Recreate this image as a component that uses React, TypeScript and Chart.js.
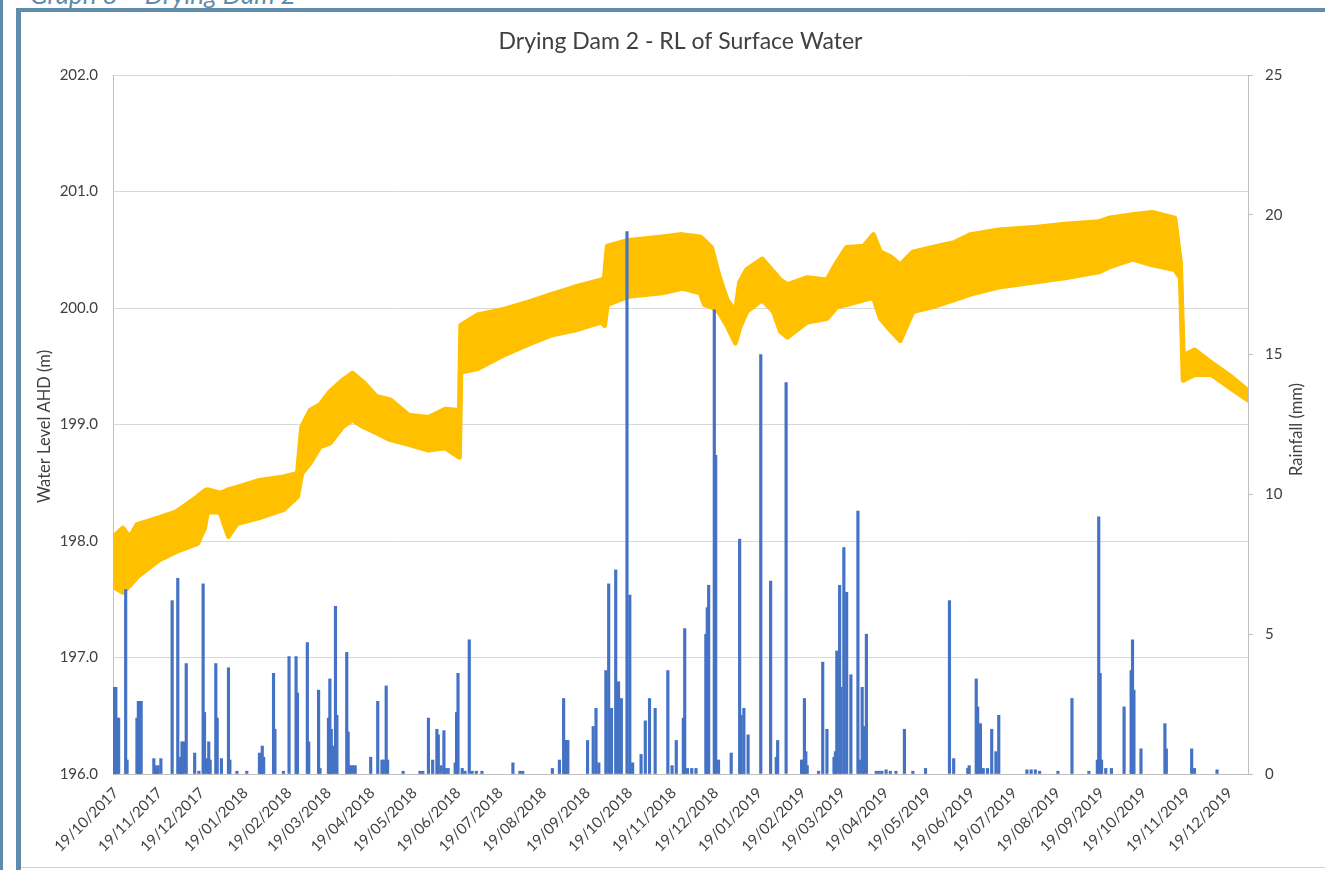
import React, { useEffect, useRef } from 'react';
import { Chart, registerables } from 'chart.js';

Chart.register(...registerables);

// ---------- data ----------
const chartTitle = 'Drying Dam 2 - RL of Surface Water';
const leftAxisTitle = 'Water Level AHD (m)';
const rightAxisTitle = 'Rainfall (mm)';
const startDate = '19/10/2017';
const xMaxDay = 806;

const monthLabels = [
  '19/10/2017', '19/11/2017', '19/12/2017', '19/01/2018', '19/02/2018', '19/03/2018',
  '19/04/2018', '19/05/2018', '19/06/2018', '19/07/2018', '19/08/2018', '19/09/2018',
  '19/10/2018', '19/11/2018', '19/12/2018', '19/01/2019', '19/02/2019', '19/03/2019',
  '19/04/2019', '19/05/2019', '19/06/2019', '19/07/2019', '19/08/2019', '19/09/2019',
  '19/10/2019', '19/11/2019', '19/12/2019',
];

// water level envelope (days after 19/10/2017)
const levelDays = [
  0, 7, 12, 17, 33, 45, 60, 65, 67, 76, 82, 88, 104, 121, 131, 134, 140, 147, 154, 163,
  170, 178, 187, 197, 210, 224, 236, 246, 247, 259, 278, 295, 312, 328, 347, 349, 351, 366,
  390, 404, 417, 420, 425, 430, 436, 442, 445, 450, 461, 469, 474, 479, 493, 507, 514, 521,
  533, 540, 545, 552, 559, 568, 582, 597, 609, 629, 653, 676, 700, 707, 724, 738, 754, 758,
  760, 768, 780, 795, 806,
];
const levelMax = [
  198.03, 198.11, 198.03, 198.14, 198.20, 198.25, 198.38, 198.43, 198.44, 198.41, 198.44, 198.46,
  198.52, 198.55, 198.58, 198.98, 199.12, 199.17, 199.28, 199.38, 199.44, 199.36, 199.24, 199.21,
  199.08, 199.06, 199.13, 199.12, 199.85, 199.94, 199.99, 200.05, 200.12, 200.18, 200.24, 200.26,
  200.53, 200.58, 200.61, 200.63, 200.61, 200.58, 200.52, 200.29, 200.07, 199.97, 200.22, 200.33,
  200.42, 200.31, 200.24, 200.20, 200.26, 200.24, 200.39, 200.52, 200.53, 200.63, 200.48, 200.44,
  200.37, 200.48, 200.52, 200.56, 200.63, 200.67, 200.69, 200.72, 200.74, 200.77, 200.80, 200.82,
  200.77, 200.39, 199.59, 199.64, 199.53, 199.40, 199.29,
];
const levelMin = [
  197.61, 197.56, 197.62, 197.69, 197.84, 197.91, 197.98, 198.11, 198.25, 198.25, 198.04, 198.15,
  198.20, 198.27, 198.38, 198.58, 198.67, 198.81, 198.84, 198.98, 199.04, 198.98, 198.93, 198.87,
  198.83, 198.78, 198.80, 198.72, 199.45, 199.48, 199.60, 199.69, 199.77, 199.81, 199.88, 199.85,
  200.03, 200.10, 200.13, 200.17, 200.13, 200.03, 200.01, 199.97, 199.85, 199.70, 199.83, 199.97,
  200.07, 199.97, 199.80, 199.75, 199.88, 199.91, 200.01, 200.03, 200.07, 200.09, 199.91, 199.81,
  199.72, 199.97, 200.01, 200.07, 200.12, 200.18, 200.22, 200.26, 200.31, 200.35, 200.42, 200.37,
  200.33, 200.26, 199.38, 199.43, 199.43, 199.30, 199.21,
];

// daily rainfall (days after 19/10/2017, mm)
const rainDays = [
  0, 1, 2, 3, 4, 9, 10, 17, 18, 19, 20, 29, 30, 31, 32, 34, 42, 46, 47, 48, 49, 50, 52, 58, 61,
  64, 65, 67, 68, 69, 73, 74, 77, 82, 83, 88, 95, 104, 105, 106, 107, 114, 115, 121, 125, 130,
  131, 138, 139, 146, 147, 153, 154, 155, 156, 158, 159, 166, 167, 168, 170, 172, 183, 188, 191,
  192, 194, 195, 206, 218, 220, 224, 227, 230, 231, 233, 235, 236, 238, 243, 244, 245, 248, 250,
  253, 255, 258, 262, 284, 289, 291, 312, 317, 320, 321, 322, 323, 337, 341, 343, 345, 350, 352,
  354, 357, 359, 361, 365, 367, 369, 375, 378, 381, 385, 394, 397, 400, 405, 406, 408, 411, 414,
  421, 422, 423, 427, 428, 430, 439, 445, 446, 448, 451, 460, 467, 471, 472, 478, 489, 490, 491,
  492, 493, 501, 504, 507, 512, 513, 514, 516, 517, 519, 521, 524, 529, 530, 532, 533, 535, 542,
  544, 546, 549, 552, 556, 562, 568, 577, 594, 597, 607, 608, 613, 614, 616, 618, 621, 624, 627,
  629, 649, 652, 655, 658, 671, 681, 693, 699, 700, 701, 702, 705, 709, 718, 723, 724, 725, 730,
  747, 748, 766, 768, 784,
];
const rainMm = [
  2.7, 3.1, 3.1, 2.0, 2.0, 6.6, 0.5, 2.0, 2.6, 2.6, 2.6, 0.55, 0.3, 0.2, 0.3, 0.55, 6.2, 7.0, 0.3,
  0.6, 1.15, 1.15, 3.95, 0.75, 0.1, 6.8, 2.2, 0.55, 1.15, 0.5, 3.95, 2.0, 0.55, 3.8, 0.5, 0.1, 0.1,
  0.75, 0.5, 1.0, 0.6, 3.6, 1.6, 0.1, 4.2, 4.2, 2.9, 4.7, 1.15, 3.0, 0.2, 2.0, 3.4, 1.6, 1.0, 6.0,
  2.1, 4.35, 1.5, 0.3, 0.3, 0.3, 0.6, 2.6, 0.5, 0.5, 3.15, 0.5, 0.1, 0.1, 0.1, 2.0, 0.5, 1.6, 1.4,
  0.3, 1.55, 0.2, 0.2, 0.4, 2.2, 3.6, 0.2, 0.1, 4.8, 0.1, 0.1, 0.1, 0.4, 0.1, 0.1, 0.2, 0.5, 2.7,
  1.2, 1.2, 1.2, 1.2, 1.7, 2.35, 0.4, 3.7, 6.8, 2.35, 7.3, 3.3, 2.7, 19.4, 6.4, 0.4, 0.7, 1.9, 2.7,
  2.35, 3.7, 0.3, 1.2, 2.0, 5.2, 0.2, 0.2, 0.2, 5.0, 5.95, 6.75, 16.6, 11.4, 0.5, 0.75, 8.4, 2.1,
  2.35, 1.4, 15.0, 6.9, 0.6, 1.2, 14.0, 0.5, 0.5, 2.7, 0.8, 0.3, 0.1, 4.0, 1.6, 0.6, 0.8, 4.4,
  6.75, 3.1, 8.1, 6.5, 3.55, 9.4, 0.5, 3.1, 1.7, 5.0, 0.1, 0.1, 0.1, 0.15, 0.1, 0.1, 1.6, 0.1,
  0.2, 6.2, 0.55, 0.2, 0.3, 3.4, 2.4, 1.8, 0.2, 0.2, 1.6, 0.8, 2.1, 0.15, 0.15, 0.15, 0.1, 0.1,
  2.7, 0.1, 0.5, 9.2, 3.6, 0.5, 0.2, 0.2, 2.4, 3.7, 4.8, 3.0, 0.9, 1.8, 0.9, 0.9, 0.2, 0.15,
];

// ---------- helpers ----------
const parseDay = (s: string) => {
  const [d, m, y] = s.split('/').map(Number);
  return Date.UTC(y, m - 1, d);
};
const startMs = parseDay(startDate);
const tickDays = monthLabels.map((s) => Math.round((parseDay(s) - startMs) / 86400000));

const FONT = 'Lato, "Open Sans", sans-serif';
const TEXT = '#404040';
const YELLOW = '#FFC000';
const BLUE = '#4472C4';

const textPlugin = {
  id: 'chartTexts',
  afterDraw(chart: any) {
    const { ctx, chartArea } = chart;
    const cy = (chartArea.top + chartArea.bottom) / 2;
    // chart title
    ctx.save();
    ctx.fillStyle = TEXT;
    ctx.font = `23px ${FONT}`;
    ctx.textAlign = 'center';
    ctx.textBaseline = 'middle';
    ctx.fillText(chartTitle, (chartArea.left + chartArea.right) / 2, 30);
    ctx.restore();
    // left axis title
    ctx.save();
    ctx.fillStyle = TEXT;
    ctx.font = `16.5px ${FONT}`;
    ctx.textAlign = 'center';
    ctx.textBaseline = 'middle';
    ctx.translate(24, cy + 2);
    ctx.rotate(-Math.PI / 2);
    ctx.fillText(leftAxisTitle, 0, 0);
    ctx.restore();
    // right axis title
    ctx.save();
    ctx.fillStyle = TEXT;
    ctx.font = `16.5px ${FONT}`;
    ctx.textAlign = 'center';
    ctx.textBaseline = 'middle';
    ctx.translate(chartArea.right + 49, cy + 5);
    ctx.rotate(-Math.PI / 2);
    ctx.fillText(rightAxisTitle, 0, 0);
    ctx.restore();
  },
};

function RainLevelChart() {
  const ref = useRef<HTMLCanvasElement | null>(null);
  useEffect(() => {
    if (!ref.current) return;
    const chart = new Chart(ref.current, {
      type: 'line',
      data: {
        datasets: [
          {
            type: 'bar',
            label: 'Rainfall',
            yAxisID: 'y2',
            data: rainDays.map((d, i) => ({ x: d, y: rainMm[i] })),
            backgroundColor: BLUE,
            borderWidth: 0,
            barThickness: 2.5,
            order: 0,
          } as any,
          {
            type: 'line',
            label: 'Level max',
            yAxisID: 'y',
            data: levelDays.map((d, i) => ({ x: d, y: levelMax[i] })),
            borderColor: YELLOW,
            backgroundColor: YELLOW,
            borderWidth: 5,
            borderJoinStyle: 'round',
            borderCapStyle: 'round',
            pointRadius: 0,
            tension: 0,
            fill: false,
            order: 1,
          },
          {
            type: 'line',
            label: 'Level min',
            yAxisID: 'y',
            data: levelDays.map((d, i) => ({ x: d, y: levelMin[i] })),
            borderColor: YELLOW,
            backgroundColor: YELLOW,
            borderWidth: 5,
            borderJoinStyle: 'round',
            borderCapStyle: 'round',
            pointRadius: 0,
            tension: 0,
            fill: '-1',
            order: 2,
          },
        ],
      },
      options: {
        responsive: false,
        animation: false,
        events: [],
        layout: { padding: { top: 63, left: 0, right: 0, bottom: 0 } },
        plugins: {
          legend: { display: false },
          tooltip: { enabled: false },
          title: { display: false },
        },
        scales: {
          x: {
            type: 'linear',
            min: 0,
            max: xMaxDay,
            offset: false,
            grid: { display: false, drawTicks: false, offset: false },
            border: { display: true, color: '#BFBFBF', width: 1 },
            afterBuildTicks: (s: any) => {
              s.ticks = tickDays.map((v) => ({ value: v }));
            },
            afterFit: (s: any) => {
              s.height = 93;
            },
            ticks: {
              autoSkip: false,
              minRotation: 45,
              maxRotation: 45,
              padding: 10,
              labelOffset: 3,
              color: TEXT,
              font: { family: FONT, size: 15 },
              callback: (_v: any, i: number) => monthLabels[i],
            },
          },
          y: {
            type: 'linear',
            position: 'left',
            min: 196,
            max: 202,
            grid: { color: '#D9D9D9', drawTicks: false },
            border: { display: true, color: '#BFBFBF' },
            afterFit: (s: any) => {
              s.width = 92;
            },
            ticks: {
              stepSize: 1,
              padding: 15,
              color: TEXT,
              font: { family: FONT, size: 15 },
              callback: (v: any) => Number(v).toFixed(1),
            },
          },
          y2: {
            type: 'linear',
            position: 'right',
            min: 0,
            max: 25,
            grid: { drawOnChartArea: false, drawTicks: true, tickLength: 5, color: '#BFBFBF' },
            border: { display: true, color: '#BFBFBF' },
            afterFit: (s: any) => {
              s.width = 77;
            },
            ticks: {
              stepSize: 5,
              padding: 12,
              color: TEXT,
              font: { family: FONT, size: 15 },
            },
          },
        },
      },
      plugins: [textPlugin],
    } as any);
    return () => chart.destroy();
  }, []);
  return <canvas ref={ref} width={1304} height={855} style={{ display: 'block' }} />;
}

export default function App() {
  const frame = '#5F8CAB';
  return (
    <div
      style={{
        position: 'fixed',
        left: 0,
        top: 0,
        width: 1325,
        height: 870,
        overflow: 'hidden',
        background: '#ffffff',
        fontFamily: FONT,
      }}
    >
      <div
        style={{
          position: 'absolute',
          left: 30,
          top: -19,
          fontSize: 26,
          lineHeight: '26px',
          fontStyle: 'italic',
          color: frame,
          whiteSpace: 'nowrap',
        }}
      >
        Graph 8 – Drying Dam 2
      </div>
      <div style={{ position: 'absolute', left: 0, top: 0, width: 3, height: 870, background: frame }} />
      <div style={{ position: 'absolute', left: 16, top: 8, width: 5, height: 862, background: frame }} />
      <div style={{ position: 'absolute', left: 16, top: 8, width: 1309, height: 4, background: frame }} />
      <div
        style={{
          position: 'absolute',
          left: 21,
          top: 12,
          width: 1304,
          height: 855,
          borderBottom: '1px solid #D0D0D0',
          background: '#ffffff',
        }}
      >
        <RainLevelChart />
      </div>
    </div>
  );
}
